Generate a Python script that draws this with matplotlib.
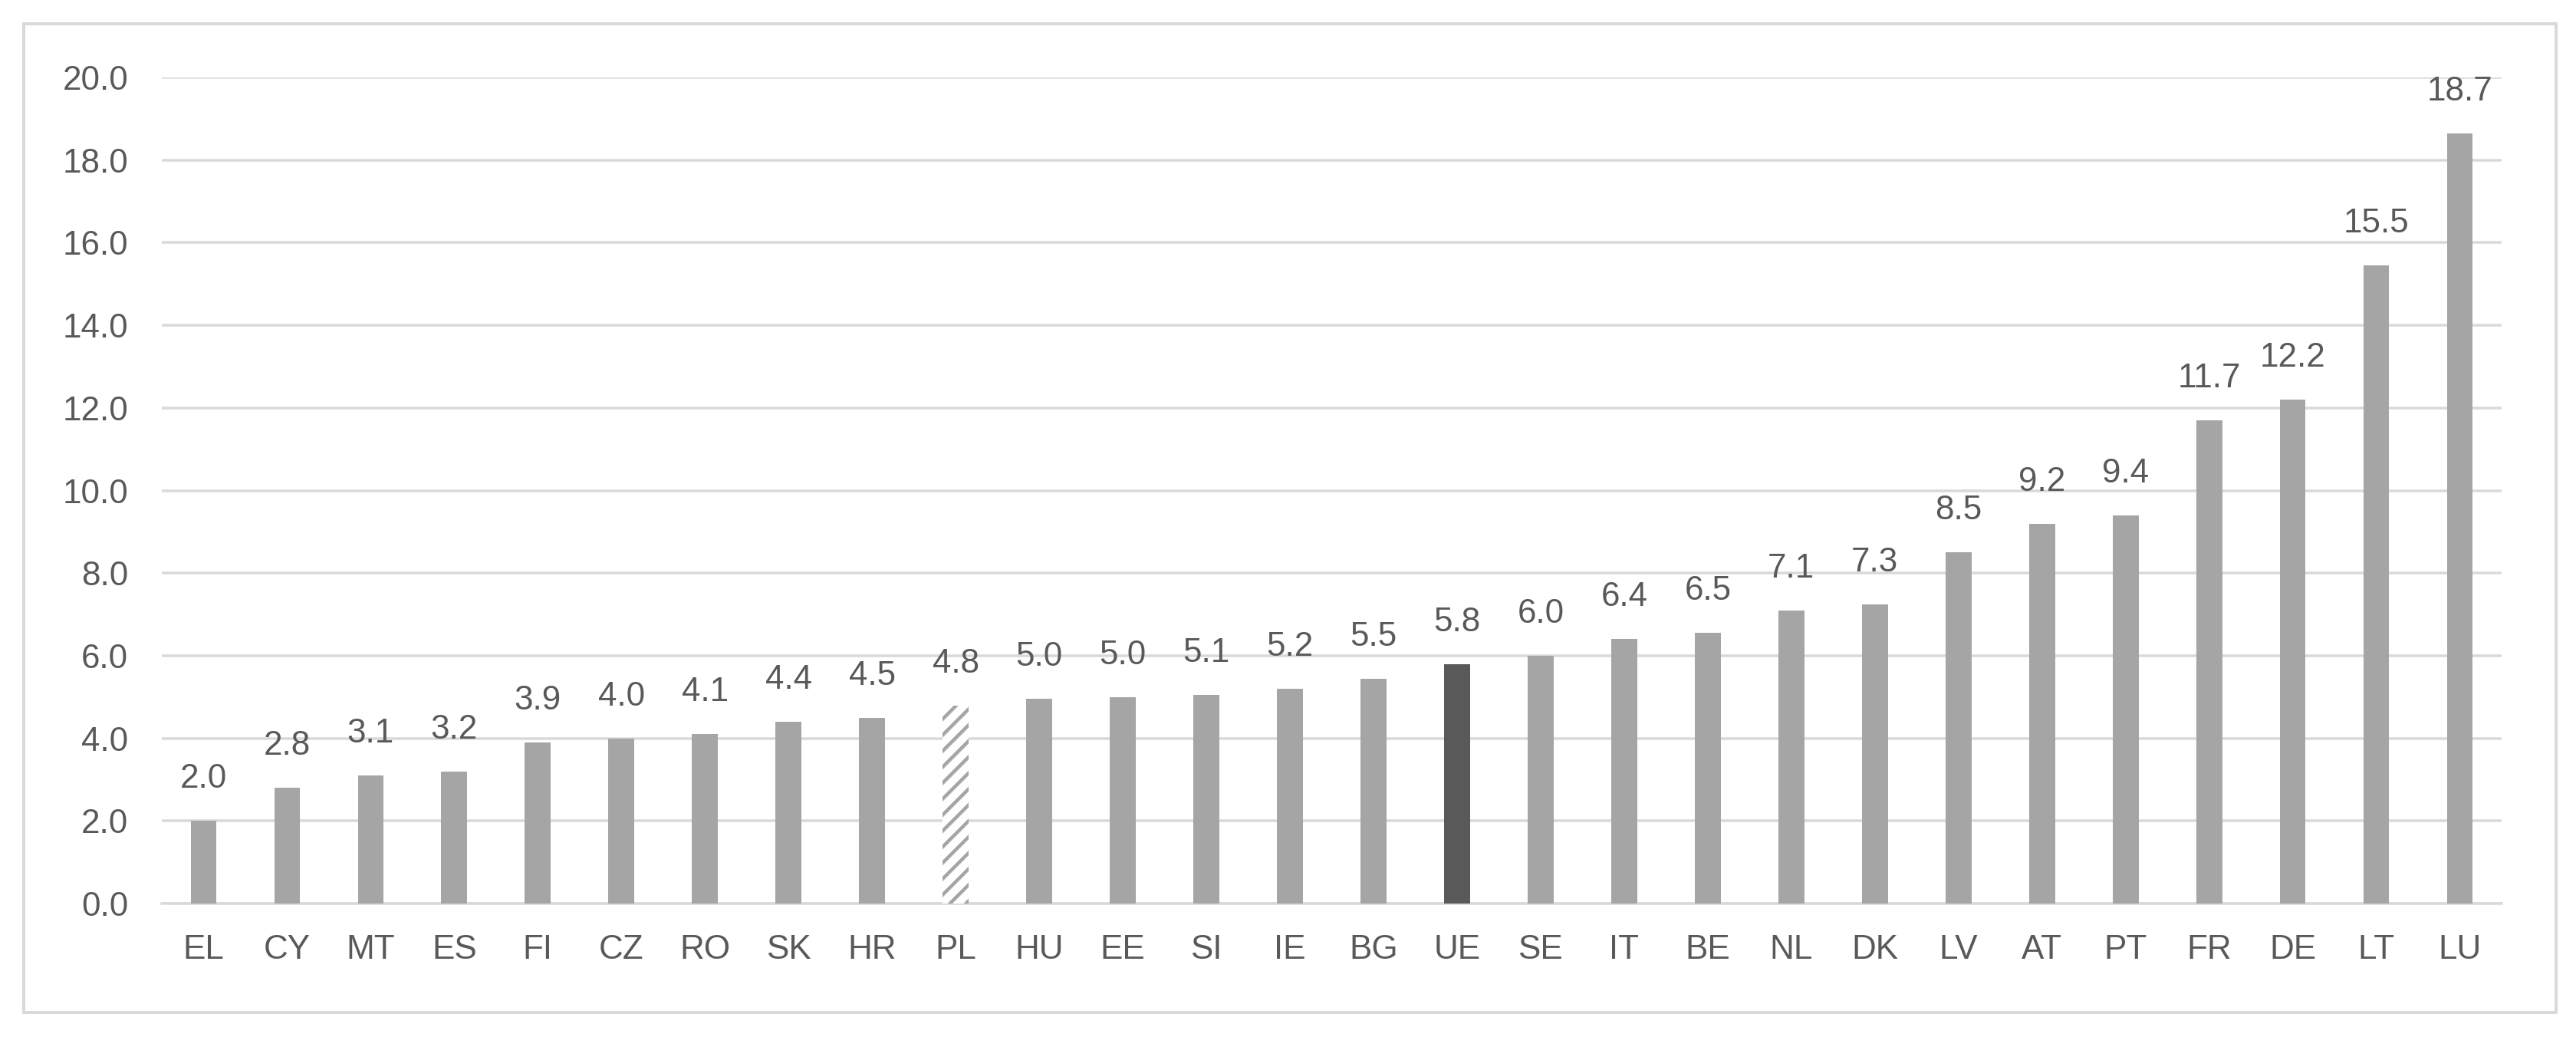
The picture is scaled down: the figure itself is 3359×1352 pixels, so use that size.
import numpy as np
import matplotlib
matplotlib.use("Agg")
import matplotlib.pyplot as plt
from matplotlib.patches import Rectangle

countries = ["EL", "CY", "MT", "ES", "FI", "CZ", "RO", "SK", "HR", "PL",
             "HU", "EE", "SI", "IE", "BG", "UE", "SE", "IT", "BE", "NL",
             "DK", "LV", "AT", "PT", "FR", "DE", "LT", "LU"]
values = [2.0, 2.8, 3.1, 3.2, 3.9, 4.0, 4.1, 4.4, 4.5, 4.8,
          4.95, 5.0, 5.05, 5.2, 5.45, 5.8, 6.0, 6.4, 6.55, 7.1,
          7.25, 8.5, 9.2, 9.4, 11.7, 12.2, 15.45, 18.65]
labels = ["2.0", "2.8", "3.1", "3.2", "3.9", "4.0", "4.1", "4.4", "4.5", "4.8",
          "5.0", "5.0", "5.1", "5.2", "5.5", "5.8", "6.0", "6.4", "6.5", "7.1",
          "7.3", "8.5", "9.2", "9.4", "11.7", "12.2", "15.5", "18.7"]
yticks = [0, 2, 4, 6, 8, 10, 12, 14, 16, 18, 20]

# dpi chosen so the "//" hatch gives ~10 px stripe spacing
DPI = 125
W, H = 3359, 1352


def pt(px):
    return px * 72 / DPI


GREY = "#A5A5A5"
DARK = "#595959"
TEXT = "#595959"
GRID = "#D9D9D9"

plt.rcParams["font.family"] = ["Liberation Sans", "DejaVu Sans"]
plt.rcParams["hatch.linewidth"] = pt(4.5)
plt.rcParams["hatch.color"] = GREY

fig = plt.figure(figsize=(W / DPI, H / DPI), dpi=DPI)
ax = fig.add_axes([211 / W, 1 - 1178 / H, (3262 - 211) / W, (1178 - 101) / H])

x = np.arange(len(countries))
colors = [GREY] * len(countries)
colors[countries.index("UE")] = DARK
bars = ax.bar(x, values, width=0.31, color=colors, linewidth=0, zorder=3)
pl = bars[countries.index("PL")]
pl.set_facecolor("white")
pl.set_hatch("//")
pl.set_edgecolor(GREY)

fs = pt(44)
for xi, v, lab in zip(x, values, labels):
    ax.annotate(lab, (xi, v), xytext=(0, pt(34)), textcoords="offset points",
                ha="center", va="bottom", fontsize=fs, color=TEXT,
                annotation_clip=False)

ax.set_xlim(-0.5, len(countries) - 0.5)
ax.set_ylim(0, 20)
ax.set_yticks(yticks, [f"{t:.1f}" for t in yticks])
ax.set_xticks(x, countries)
ax.tick_params(axis="both", length=0, labelsize=fs, colors=TEXT)
ax.tick_params(axis="y", pad=pt(44))
ax.tick_params(axis="x", pad=pt(40))
ax.grid(axis="y", color=GRID, linewidth=pt(3.5), zorder=0)
for s in ["top", "right", "left"]:
    ax.spines[s].set_visible(False)
ax.spines["bottom"].set_color(GRID)
ax.spines["bottom"].set_linewidth(pt(3.5))

fig.patches.append(Rectangle((31 / W, 1 - 1320 / H), (3333 - 31) / W, (1320 - 31) / H,
                             transform=fig.transFigure, fill=False,
                             edgecolor=GRID, linewidth=pt(4)))

fig.savefig("out.png", dpi=DPI)
